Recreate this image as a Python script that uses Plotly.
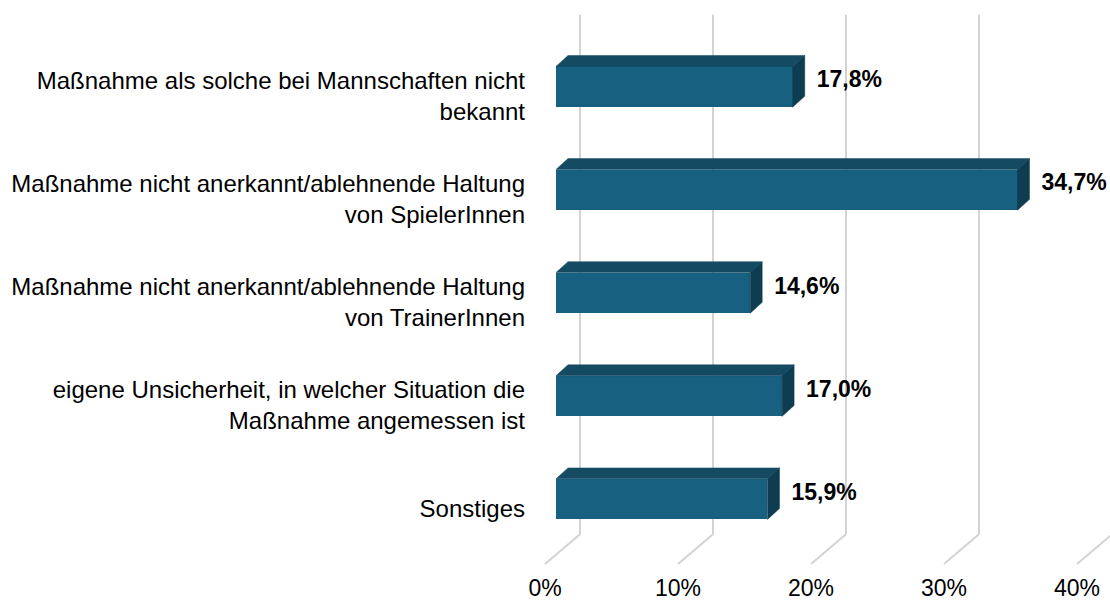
import plotly.graph_objects as go

categories = [
    "Maßnahme als solche bei Mannschaften nicht<br>bekannt",
    "Maßnahme nicht anerkannt/ablehnende Haltung<br>von SpielerInnen",
    "Maßnahme nicht anerkannt/ablehnende Haltung<br>von TrainerInnen",
    "eigene Unsicherheit, in welcher Situation die<br>Maßnahme angemessen ist",
    "Sonstiges",
]
values = [17.8, 34.7, 14.6, 17.0, 15.9]
tick_values = [0, 10, 20, 30, 40]
tick_labels = ["0%", "10%", "20%", "30%", "40%"]

# --- geometry (pseudo 3D) ---
W, H = 1110, 601
ML, MR, MT, MB = 530, 0, 0, 24
PXU = 13.3            # pixels per 1 percentage point
X_ORIGIN = 556        # pixel of 0% on the bar front plane
ROW = 104             # pixels per category
Y0 = 87.5             # pixel of first bar centre
x0 = (ML - X_ORIGIN) / PXU
x1 = (W - MR - X_ORIGIN) / PXU
ytop = (MT - Y0) / ROW
ybot = (H - MB - Y0) / ROW

bar_w = 41 / ROW
dx_bar, dy_bar = 12 / PXU, -11 / ROW       # bar depth
dx_wall = 24 / PXU                         # back wall offset
dx_front, dy_front = -11 / PXU, 9.4 / ROW  # floor front offset
grid_top = (15 - Y0) / ROW
grid_bot = (539 - Y0) / ROW
floor_bot = (569 - Y0) / ROW

FRONT = "#176080"
TOP = "#144A62"
SIDE = "#0E3C50"
GRID = "#D3D3D3"
FONT = "Liberation Sans, Arial"

idx = list(range(len(categories)))
fig = go.Figure()

# gridlines: back wall verticals + floor diagonals (below all marks)
for t in tick_values:
    xw = t + dx_wall
    fig.add_shape(type="line", x0=xw, x1=xw, y0=grid_top, y1=grid_bot, xref="x", yref="y",
                  line=dict(color=GRID, width=2), layer="below")
    fig.add_shape(type="line", x0=xw, x1=t + dx_front, y0=grid_bot, y1=floor_bot, xref="x", yref="y",
                  line=dict(color=GRID, width=2), layer="below")

# 3D faces
for i, v in zip(idx, values):
    yt = i - bar_w / 2
    yb = i + bar_w / 2
    fig.add_trace(go.Scatter(
        x=[0, v, v + dx_bar, dx_bar, 0], y=[yt, yt, yt + dy_bar, yt + dy_bar, yt],
        fill="toself", fillcolor=TOP, mode="lines", line=dict(color=TOP, width=0.5),
        hoverinfo="skip", showlegend=False))
    fig.add_trace(go.Scatter(
        x=[v, v, v + dx_bar, v + dx_bar, v], y=[yt, yb, yb + dy_bar, yt + dy_bar, yt],
        fill="toself", fillcolor=SIDE, mode="lines", line=dict(color=SIDE, width=0.5),
        hoverinfo="skip", showlegend=False))

fig.add_trace(go.Bar(
    x=values, y=idx, orientation="h", width=bar_w, base=0,
    marker=dict(color=FRONT, line=dict(width=0)), showlegend=False))

fig.add_trace(go.Scatter(
    x=[v + dx_bar + 0.9 for v in values], y=[i - 0.05 for i in idx],
    mode="text", text=[f"{v:.1f}".replace(".", ",") + "%" for v in values],
    textposition="middle right",
    textfont=dict(family=FONT, size=23, color="#000000", weight="bold"),
    showlegend=False, hoverinfo="skip", cliponaxis=False))

fig.update_layout(
    width=W, height=H, margin=dict(l=ML, r=MR, t=MT, b=MB),
    paper_bgcolor="white", plot_bgcolor="white", bargap=0,
    font=dict(family=FONT, size=24, color="#000000"),
    xaxis=dict(range=[x0, x1], showgrid=False, zeroline=False, showticklabels=False,
               showline=False, fixedrange=True),
    xaxis2=dict(range=[x0 - dx_front, x1 - dx_front], overlaying="x", side="bottom",
                anchor="y", tickvals=tick_values, ticktext=tick_labels,
                showgrid=False, zeroline=False, showline=False, ticks="",
                tickfont=dict(size=23)),
    yaxis=dict(range=[ybot, ytop], tickvals=[i + dy_front for i in idx], ticktext=categories,
               showgrid=False, zeroline=False, showline=False, ticks="",
               tickfont=dict(size=24), ticklabelstandoff=4, automargin=False),
)
# dummy trace to activate xaxis2
fig.add_trace(go.Scatter(x=[None], y=[None], xaxis="x2", showlegend=False, hoverinfo="skip"))

fig.write_html("out.html", config={"displayModeBar": False},
               post_script="document.body.style.margin='0';document.body.style.padding='0';")
